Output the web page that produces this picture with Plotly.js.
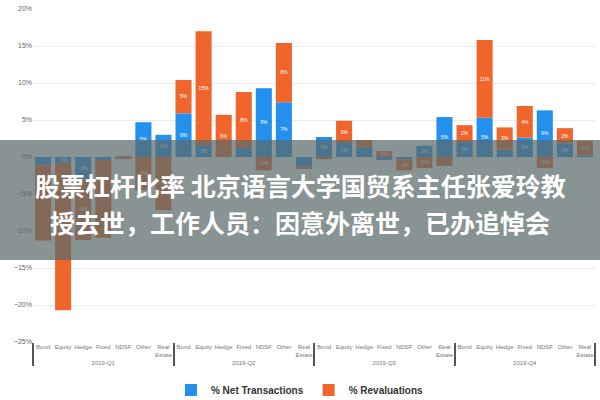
<!DOCTYPE html>
<html>
<head>
<meta charset="utf-8">
<script src="https://cdn.plot.ly/plotly-3.0.1.min.js"></script>
<style>html,body{margin:0;padding:0;background:#fff;}#chart{width:600px;height:400px;}</style>
</head>
<body>
<div id="chart"></div>
<script>
const quarters = ["2019-Q1", "2019-Q2", "2019-Q3", "2019-Q4"];
const assetClasses = ["Bond", "Equity", "Hedge", "Fixed", "NDSF", "Other", "Real<br>Estate"];
const netTransactions = [
  -1.1, -0.8, -3.0, -0.4, 0.1, 4.7, 3.0,
  5.9, 1.6, 0, 1.2, 9.3, 7.4, -1.3,
  2.7, 1.9, 1.3, -0.4, -0.3, 1.5, 5.4,
  2.0, 5.3, 1.0, 2.6, 6.3, 1.8, 0.2
];
const revaluations = [
  -10.2, -19.9, -8.2, -10.5, -0.3, -4.5, -7.2,
  4.5, 15.4, 5.7, 7.6, -1.8, 8.0, -0.3,
  -0.3, 3.0, 1.0, 0.8, -1.5, -1.5, -1.2,
  2.3, 10.5, 3.0, 4.3, -1.5, 2.1, 2.0
];
const bannerLine1 = "股票杠杆比率 北京语言大学国贸系主任张爱玲教";
const bannerLine2 = "授去世，工作人员：因意外离世，已办追悼会";

const qLevel = [], cLevel = [];
quarters.forEach(q => assetClasses.forEach(c => { qLevel.push(q); cLevel.push(c); }));

const common = {
  type: 'bar',
  x: [qLevel, cLevel],
  texttemplate: '%{y:.0f}%',
  textposition: 'inside',
  insidetextanchor: 'middle',
  textangle: 0,
  textfont: {size: 7, color: '#ffffff', family: 'Liberation Sans, Arial, sans-serif'},
  hoverinfo: 'none'
};

const traces = [
  Object.assign({}, common, {name: '% Net Transactions', y: netTransactions, marker: {color: '#2490EE'}}),
  Object.assign({}, common, {name: '% Revaluations', y: revaluations, marker: {color: '#F0652C'}})
];

const plotTop = 9, plotBottom = 342, plotH = plotBottom - plotTop;
const py = px => (plotBottom - px) / plotH;

const layout = {
  width: 600, height: 400,
  margin: {l: 33, r: 5, t: plotTop, b: 400 - plotBottom, autoexpand: false},
  paper_bgcolor: '#ffffff',
  plot_bgcolor: '#ffffff',
  barmode: 'relative',
  bargap: 0.2,
  showlegend: true,
  uniformtext: {minsize: 5, mode: 'hide'},
  legend: {
    orientation: 'h', x: 0.475, xanchor: 'center', y: py(390), yanchor: 'middle',
    font: {size: 10, color: '#333', family: 'Liberation Sans, Arial, sans-serif', weight: 'bold'},
    itemwidth: 30, traceorder: 'normal'
  },
  xaxis: {
    type: 'multicategory',
    tickangle: 0,
    showdividers: true, dividercolor: '#555', dividerwidth: 2,
    tickfont: {size: 6, color: '#777', family: 'Liberation Sans, Arial, sans-serif'},
    showgrid: false, showline: false, zeroline: false, ticks: ''
  },
  yaxis: {
    range: [-25, 20],
    dtick: 5,
    ticksuffix: '%',
    tickfont: {size: 7, color: '#666', family: 'Liberation Sans, Arial, sans-serif'},
    gridcolor: '#ececec',
    zeroline: false,
    showline: false
  },
  shapes: [{
    type: 'rect', xref: 'paper', yref: 'paper', layer: 'above',
    x0: -0.1, x1: 1.1, y0: py(260), y1: py(140),
    fillcolor: 'rgba(90,105,105,0.72)', line: {width: 0}
  }],
  annotations: [
    {xref: 'paper', yref: 'paper', x: (300 - 33) / 562, y: py(185), text: bannerLine1, showarrow: false,
     font: {size: 25, color: '#ffffff', family: 'Noto Sans CJK SC', weight: 'bold'}, xanchor: 'center', yanchor: 'middle'},
    {xref: 'paper', yref: 'paper', x: (300 - 33) / 562, y: py(222), text: bannerLine2, showarrow: false,
     font: {size: 25, color: '#ffffff', family: 'Noto Sans CJK SC', weight: 'bold'}, xanchor: 'center', yanchor: 'middle'}
  ]
};

Plotly.newPlot('chart', traces, layout, {displayModeBar: false, staticPlot: true});
</script>
</body>
</html>
